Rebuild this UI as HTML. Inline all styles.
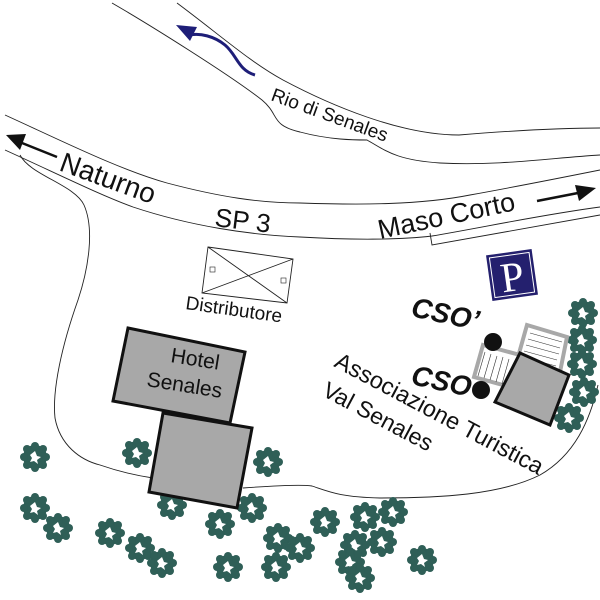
<!DOCTYPE html>
<html><head><meta charset="utf-8"><style>
html,body{margin:0;padding:0;background:#fff}
svg{display:block}
text{font-family:"Liberation Sans",sans-serif;fill:#111}
</style></head><body>
<svg width="600" height="600" viewBox="0 0 600 600" xmlns="http://www.w3.org/2000/svg">
<defs>
<g id="t">
<circle r="12" fill="#2f5f57"/>
<circle cx="11" cy="0" r="4" fill="#2f5f57"/><circle cx="-11" cy="0" r="4" fill="#2f5f57"/>
<circle cx="0" cy="11" r="4" fill="#2f5f57"/><circle cx="0" cy="-11" r="4" fill="#2f5f57"/>
<circle cx="8" cy="8" r="4" fill="#2f5f57"/><circle cx="-8" cy="8" r="4" fill="#2f5f57"/>
<circle cx="8" cy="-8" r="4" fill="#2f5f57"/><circle cx="-8" cy="-8" r="4" fill="#2f5f57"/>
<path d="M-5,-2 L0,-6 L2,-1 L6,0 L2,3 L3,7 L-1,4 L-5,5 L-3,1 Z" fill="#fff"/>
</g>
</defs>
<g fill="none" stroke="#222" stroke-width="0.9">
<path d="M112,3 C150,25 230,75 262,100 C280,115 270,125 300,132 C330,140 355,140 367,140 C385,150 395,160 440,163 C500,166 550,158 600,155"/>
<path d="M177,3 C220,35 250,62 283,80 C330,105 400,135 459,135 C520,130 560,128 600,128"/>
<path d="M5,115 C60,140 120,170 167,183 C220,197 260,203 300,203 C360,205 420,205 470,195 C520,186 560,178 600,170"/>
<path d="M5,150 C60,175 100,195 133,207 C190,226 250,235 300,237 C350,240 400,240 432,236 C480,228 540,215 600,207"/>
<path d="M430,233 L432,245 L600,215"/>
<path d="M20,155 C30,175 75,185 84,205 C95,230 88,270 78,300 C62,345 52,390 55,418 C60,445 80,460 100,465 C120,472 140,476 153,478"/>
<path d="M243,488 C270,486 300,484 312,486 C330,492 340,497 380,498 C440,498 500,495 540,475 C575,455 590,420 598,385"/>
<path d="M208,247 L293,259 L287,303 L202,293 Z M208,247 L287,303 M293,259 L202,293"/>
<rect x="210" y="267" width="5" height="5" stroke-width="0.6"/>
<rect x="281" y="278" width="5" height="5" stroke-width="0.6"/>
</g>
<path d="M255,75 C238,70 237,55 225,45 C214,36 200,33 190,35" fill="none" stroke="#1e1e78" stroke-width="3"/>
<path d="M176,25 L197,27 L190,41 Z" fill="#1e1e78"/>
<line x1="57" y1="157" x2="22" y2="143" stroke="#111" stroke-width="2.5"/>
<path d="M6,135 L26,134 L20,150 Z" fill="#111"/>
<line x1="537" y1="201" x2="578" y2="193" stroke="#111" stroke-width="2.5"/>
<path d="M596,188 L575,185 L579,201 Z" fill="#111"/>
<text x="58" y="170" font-size="28" transform="rotate(20 58 170)">Naturno</text>
<text x="214" y="226" font-size="26" transform="rotate(7 214 226)">SP 3</text>
<text x="380" y="239" font-size="27" transform="rotate(-12 380 239)">Maso Corto</text>
<text x="270" y="100" font-size="19" transform="rotate(20 270 100)">Rio di Senales</text>
<text x="185" y="309" font-size="19" transform="rotate(8 185 309)">Distributore</text>
<g transform="rotate(-8 512 275)">
<rect x="489" y="252" width="46" height="46" fill="#24206e"/>
<rect x="492" y="255" width="40" height="40" fill="none" stroke="#fff" stroke-width="1"/>
<text x="512" y="291" font-size="42" text-anchor="middle" style="fill:#fff;font-family:'Liberation Serif',serif">P</text>
</g>
<use href="#t" x="583" y="313"/><use href="#t" x="582" y="340"/><use href="#t" x="582" y="364"/>
<use href="#t" x="584" y="392"/><use href="#t" x="569" y="418"/>
<g stroke="#a8a8a8" stroke-width="4" fill="#fff">
<path d="M527,325 L567,337 L560,372 L518,357 Z"/>
<path d="M483,345 L520,355 L510,387 L474,377 Z"/>
</g>
<g stroke="#333" stroke-width="0.6">
<path d="M530,333 L562,342 M528,339 L560,348 M526,345 L559,354 M524,351 L557,360 M522,357 L556,366"/>
<path d="M485,352 L478,376 M491,354 L484,378 M497,356 L490,380 M503,357 L496,382 M509,359 L502,384"/>
</g>
<path d="M520,353 L569,375 L550,425 L495,402 Z" fill="#a8a8a8" stroke="#111" stroke-width="3"/>
<circle cx="493" cy="342" r="9" fill="#111"/>
<circle cx="481" cy="390" r="9" fill="#111"/>
<text x="410" y="316" font-size="28" font-weight="bold" font-style="italic" transform="rotate(12 410 316)">CSO’</text>
<text x="410" y="384" font-size="28" font-weight="bold" font-style="italic" transform="rotate(12 410 384)">CSO</text>
<text x="333" y="366" font-size="23.5" transform="rotate(28 333 366)">Associazione Turistica</text>
<text x="321" y="395" font-size="23" transform="rotate(28 321 395)">Val Senales</text>
<use href="#t" x="35" y="457"/><use href="#t" x="137" y="453"/><use href="#t" x="268" y="462"/>
<use href="#t" x="35" y="508"/><use href="#t" x="58" y="528"/><use href="#t" x="110" y="533"/>
<use href="#t" x="140" y="548"/><use href="#t" x="162" y="563"/><use href="#t" x="172" y="505"/>
<use href="#t" x="220" y="524"/><use href="#t" x="252" y="508"/><use href="#t" x="278" y="538"/>
<use href="#t" x="300" y="548"/><use href="#t" x="228" y="567"/><use href="#t" x="276" y="567"/>
<use href="#t" x="325" y="522"/><use href="#t" x="365" y="517"/><use href="#t" x="393" y="512"/>
<use href="#t" x="355" y="545"/><use href="#t" x="382" y="542"/><use href="#t" x="350" y="562"/>
<use href="#t" x="360" y="578"/><use href="#t" x="422" y="560"/>
<path d="M128,328 L245,352 L230,423 L113,401 Z" fill="#a8a8a8" stroke="#111" stroke-width="3"/>
<path d="M163,413 L252,428 L237,508 L149,492 Z" fill="#a8a8a8" stroke="#111" stroke-width="3"/>
<text x="170" y="362" font-size="21" transform="rotate(9 170 362)">Hotel</text>
<text x="146" y="386" font-size="21" transform="rotate(9 146 386)">Senales</text>
</svg>
</body></html>
